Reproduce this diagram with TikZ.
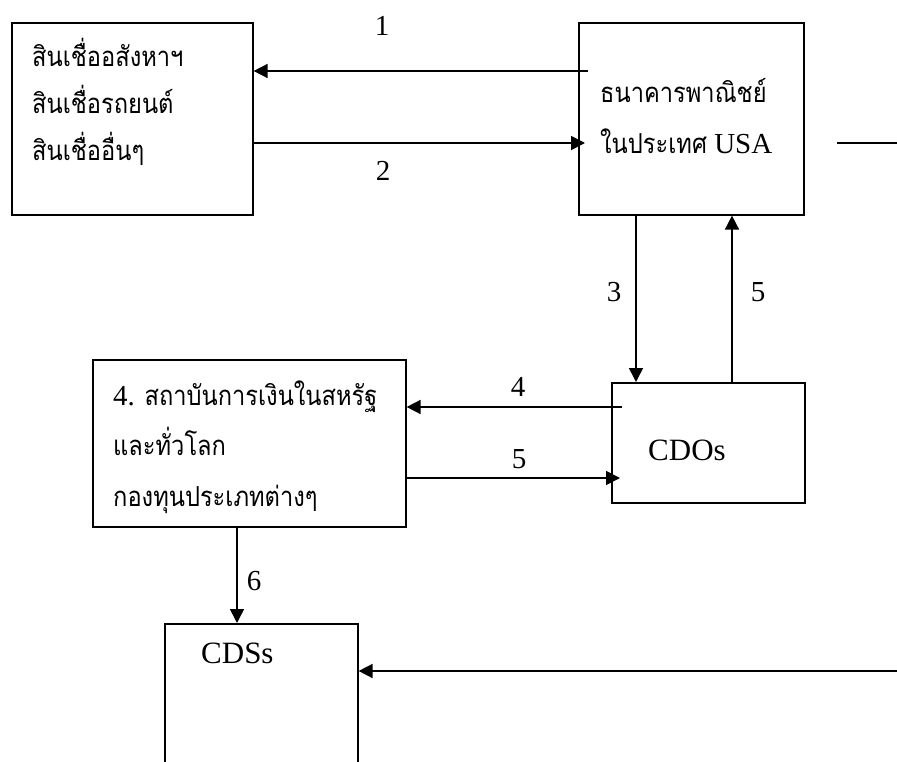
\documentclass[tikz,border=0pt]{standalone}
\usepackage{fontspec}
\setmainfont{Liberation Serif}
\newfontfamily\thaifont[Script=Thai, FakeStretch=0.86]{Loma}
\usetikzlibrary{arrows.meta}
\newcommand{\thx}[1]{{\thaifont #1}}
\begin{document}
\begin{tikzpicture}[x=1pt,y=-1pt,
  box/.style={draw, line width=1.6pt, inner sep=0pt, anchor=north west},
  arr/.style={line width=1.6pt, -{Triangle[length=14pt,width=14pt]}},
  ln/.style={line width=1.6pt},
  lbl/.style={font=\fontsize{29}{34}\selectfont, inner sep=0pt},
  txt/.style={font=\fontsize{27.5}{32}\selectfont, inner sep=0pt, anchor=base west},
  latin/.style={font=\fontsize{29}{34}\selectfont, inner sep=0pt, anchor=base west}]
\useasboundingbox (0,0) rectangle (897,762);
\begin{scope}
\clip (0,0) rectangle (897,762);
% boxes
\node[box, minimum width=241pt, minimum height=192pt] (loans) at (11,22) {};
\node[box, minimum width=225pt, minimum height=192pt] (bank) at (578,22) {};
\node[box, minimum width=313pt, minimum height=167pt] (fin) at (92,359) {};
\node[box, minimum width=193pt, minimum height=120pt] (cdo) at (611,382) {};
\node[box, minimum width=193pt, minimum height=200pt] (cds) at (164,623) {};
% texts
\node[txt] (l1) at (32,67) {\thx{สินเชื่ออสังหาฯ}};
\node[txt] (l2) at (32,114) {\thx{สินเชื่อรถยนต์}};
\node[txt] (l3) at (32,161) {\thx{สินเชื่ออื่นๆ}};
\node[txt] (b1) at (600,103) {\thx{ธนาคารพาณิชย์}};
\node[txt] (b2) at (600,154) {\thx{ในประเทศ}\fontsize{29}{34}\selectfont{} USA};
\node[txt] (f1) at (113,405) {\fontsize{29}{34}\selectfont 4. \thx{\fontsize{27.5}{32}\selectfont สถาบันการเงินในสหรัฐ}};
\node[txt] (f2) at (113,455) {\thx{และทั่วโลก}};
\node[txt] (f3) at (113,506) {\thx{กองทุนประเภทต่างๆ}};
\node[latin, font=\fontsize{31}{36}\selectfont] (cdot) at (648,460) {CDOs};
\node[latin, font=\fontsize{31}{36}\selectfont] (cdst) at (201,663) {CDSs};
% connectors
\coordinate (a1s) at (588,71);
\coordinate (a2e) at (585,143);
\coordinate (r1s) at (837,143);
\coordinate (r1e) at (897,143);
\coordinate (x3) at (636,0);
\coordinate (x5) at (732,0);
\coordinate (a4s) at (622,407);
\coordinate (a5e) at (620,478);
\coordinate (x6) at (237,0);
\coordinate (r2s) at (897,671);
\draw[arr] (a1s) -- (a1s -| loans.east);
\draw[arr] (a2e -| loans.east) -- (a2e);
\draw[ln] (r1s) -- (r1e);
\draw[arr] (bank.south -| x3) -- (cdo.north -| x3);
\draw[arr] (cdo.north -| x5) -- (bank.south -| x5);
\draw[arr] (a4s) -- (a4s -| fin.east);
\draw[arr] (a5e -| fin.east) -- (a5e);
\draw[arr] (fin.south -| x6) -- (cds.north -| x6);
\draw[arr] (r2s) -- (r2s -| cds.east);
% labels
\node[lbl] (n1) at (382,26) {1};
\node[lbl] (n2) at (383,171) {2};
\node[lbl] (n3) at (614,292) {3};
\node[lbl] (n5a) at (758,292) {5};
\node[lbl] (n4) at (518,387) {4};
\node[lbl] (n5b) at (519,459) {5};
\node[lbl] (n6) at (254,581) {6};
\end{scope}
\end{tikzpicture}
\end{document}
